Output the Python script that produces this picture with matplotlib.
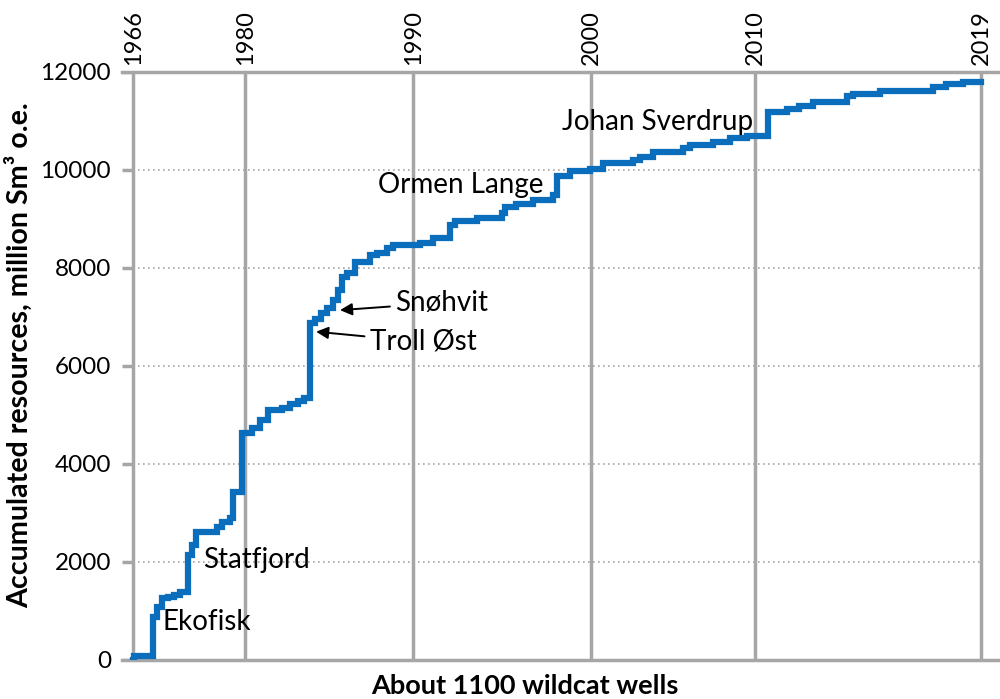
import matplotlib
matplotlib.use("Agg")
import matplotlib.pyplot as plt

plt.rcParams['font.family'] = ['Lato', 'DejaVu Sans']

# well number where each step starts, and accumulated resources from that well on
wells = [0, 1, 25, 30, 37, 45, 53, 60, 71, 76, 81, 108, 115, 125, 129, 141,
         154, 164, 175, 193, 203, 213, 221, 229, 236, 243, 251, 259, 265, 271,
         277, 287, 307, 316, 329, 337, 372, 389, 411, 417, 446, 478, 482, 497,
         518, 544, 550, 566, 592, 609, 648, 657, 674, 713, 722, 752, 774, 796,
         823, 848, 864, 882, 926, 934, 969, 1037, 1055, 1076, 1100]
resources = [0, 90, 880, 1080, 1260, 1290, 1330, 1390, 2140, 2350, 2620, 2720,
             2820, 2900, 3420, 4630, 4730, 4900, 5100, 5150, 5220, 5280, 5350,
             6870, 6960, 7080, 7180, 7350, 7550, 7820, 7900, 8130, 8270, 8300,
             8400, 8470, 8520, 8610, 8880, 8950, 9020, 9120, 9250, 9310, 9390,
             9490, 9880, 9970, 10030, 10140, 10200, 10260, 10370, 10440, 10500,
             10580, 10650, 10690, 11190, 11240, 11300, 11390, 11500, 11550,
             11620, 11690, 11760, 11800, 11800]

year_labels = ['1966', '1980', '1990', '2000', '2010', '2019']
year_wells = [0, 145, 363, 594, 807, 1100]

y_ticks = [0, 2000, 4000, 6000, 8000, 10000, 12000]

fields = ['Ekofisk', 'Statfjord', 'Ormen Lange', 'Johan Sverdrup']
field_pos = [(38, 775), (90, 2040), (317, 9690), (556, 10980)]

arrow_fields = ['Troll Øst', 'Snøhvit']
arrow_head = [(237, 6700), (268, 7140)]
arrow_text = [(307, 6490), (340, 7290)]

grey = '#a6a6a6'
blue = '#0a6ebd'

fig = plt.figure(figsize=(10, 6.99), dpi=100)
ax = fig.add_axes([0.122, 0.0558, 0.878, 0.8412])
ax.set_xlim(-14.9, 1124.6)
ax.set_ylim(0, 12000)

# dotted horizontal grid and the small tick stubs left of the first well
ax.hlines(y_ticks[1:-1], 0, year_wells[-1], colors=grey, linestyles=(0, (1, 2)), linewidth=1.2, zorder=1)
ax.hlines(y_ticks, ax.get_xlim()[0], 0, colors=grey, linewidth=2.5, zorder=1)
for w in year_wells:
    ax.axvline(w, color=grey, linewidth=2.5, zorder=1)

ax.step(wells, resources, where='post', color=blue, linewidth=4.5, zorder=3,
        solid_joinstyle='miter')

for name, (x, y) in zip(fields, field_pos):
    ax.text(x, y, name, fontsize=20, va='center', ha='left', zorder=4)
for name, head, tail in zip(arrow_fields, arrow_head, arrow_text):
    ax.annotate(name, xy=head, xytext=tail, fontsize=20, va='center', ha='left',
                arrowprops=dict(arrowstyle='-|>', color='black', lw=1.4,
                                mutation_scale=18, shrinkA=2, shrinkB=0))

for s in ['left', 'right']:
    ax.spines[s].set_visible(False)
for s in ['top', 'bottom']:
    ax.spines[s].set_color(grey)
    ax.spines[s].set_linewidth(2.5)

ax.set_yticks(y_ticks)
ax.set_yticklabels([str(v) for v in y_ticks], fontsize=17.5)
ax.tick_params(axis='y', length=0, pad=8)

ax.xaxis.tick_top()
ax.set_xticks(year_wells)
ax.set_xticklabels(year_labels, rotation=90, fontsize=17)
ax.tick_params(axis='x', length=0, pad=5)

fig.text(0.525, 0.019, 'About 1100 wildcat wells', ha='center', va='center',
         fontsize=19.5, fontweight='bold')
fig.text(0.019, 0.492, 'Accumulated resources, million Sm³ o.e.', ha='center',
         va='center', rotation=90, fontsize=20.6, fontweight='bold')

fig.savefig('out.png', dpi=100)
